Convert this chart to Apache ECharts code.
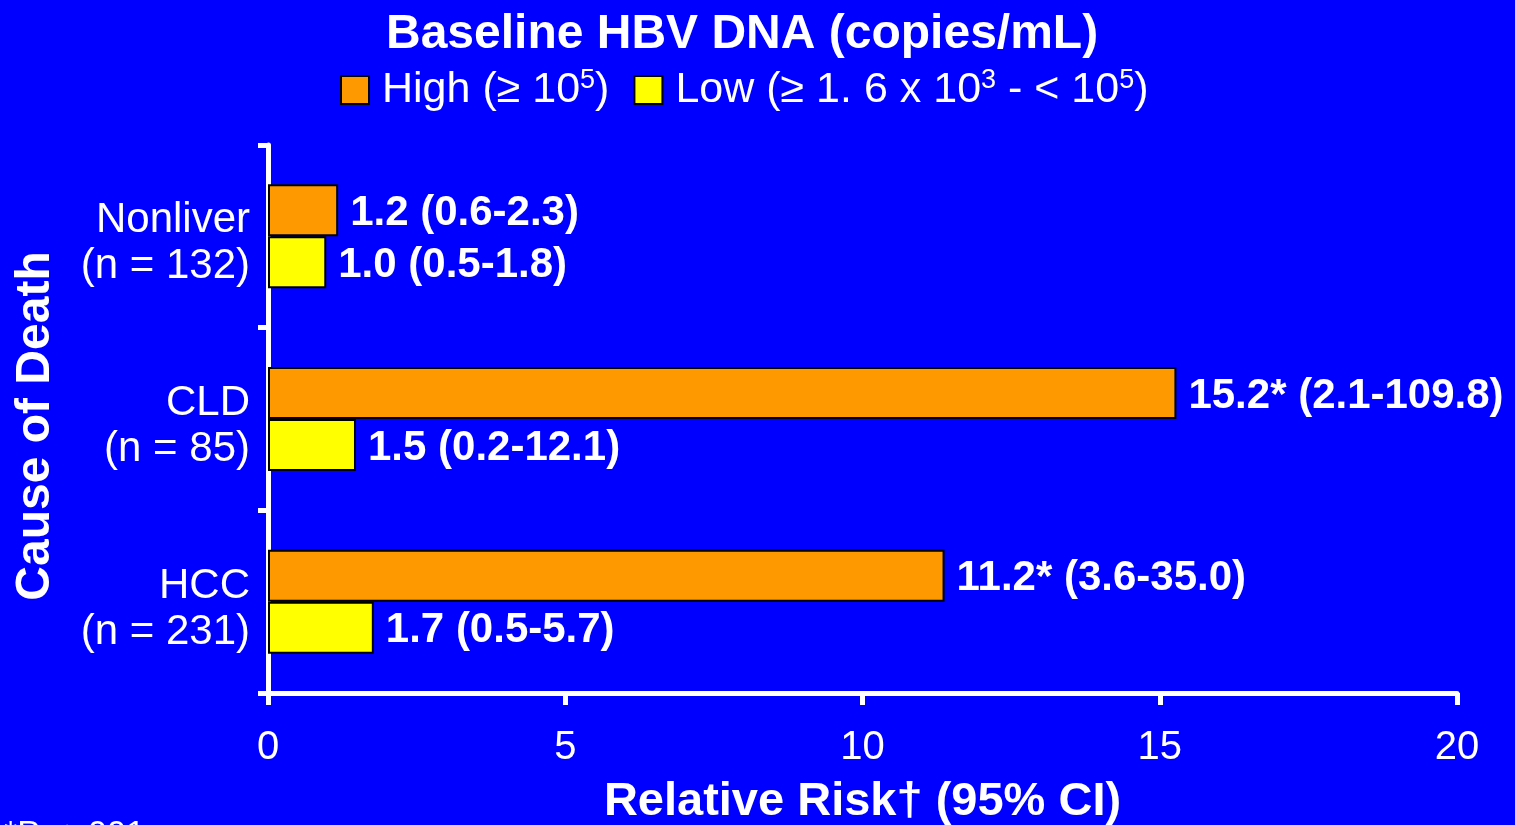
<!DOCTYPE html>
<html><head><meta charset="utf-8">
<script src="https://cdn.jsdelivr.net/npm/echarts@6/dist/echarts.min.js"></script>
<style>html,body{margin:0;padding:0;background:#0000FF;}#c{width:1515px;height:825px;}</style>
</head><body><div id="c"></div>
<script>
const categories = ['Nonliver\n(n = 132)', 'CLD\n(n = 85)', 'HCC\n(n = 231)'];
const highSeries = [1.18, 15.28, 11.38];
const lowSeries = [0.98, 1.48, 1.78];
const highLabels = ['1.2 (0.6-2.3)', '15.2* (2.1-109.8)', '11.2* (3.6-35.0)'];
const lowLabels = ['1.0 (0.5-1.8)', '1.5 (0.2-12.1)', '1.7 (0.5-5.7)'];
const xTicks = [0, 5, 10, 15, 20];

const FONT = '"Liberation Sans", Arial, sans-serif';
const chart = echarts.init(document.getElementById('c'));
const barLabel = (arr) => ({
  show: true, position: 'right', distance: 12, offset: [0, 3],
  formatter: p => arr[p.dataIndex],
  color: '#fff', fontWeight: 'bold', fontSize: 42, fontFamily: FONT
});
chart.setOption({
  backgroundColor: '#0000FF',
  animation: false,
  title: {
    text: 'Baseline HBV DNA (copies/mL)', left: 381, top: 6,
    textStyle: { color: '#fff', fontWeight: 'bold', fontSize: 48, fontFamily: FONT }
  },
  legend: {
    top: 62, left: 335, itemWidth: 28, itemHeight: 28, itemGap: 24,
    icon: 'rect',
    data: ['High', 'Low'],
    formatter: name => name === 'High'
      ? '{t|High (≥ 10}{s|5}{t|)}'
      : '{t|Low (≥ 1. 6 x 10}{s|3}{t| - < 10}{s|5}{t|)}',
    textStyle: {
      color: '#fff', fontFamily: FONT, padding: [0, 0, 0, 8],
      rich: {
        t: { color: '#fff', fontSize: 43, lineHeight: 46, fontFamily: FONT },
        s: { color: '#fff', fontSize: 27, lineHeight: 30, verticalAlign: 'top', fontFamily: FONT }
      }
    }
  },
  grid: { left: 268, right: 58, top: 145, bottom: 132, containLabel: false, outerBoundsMode: 'none' },
  xAxis: {
    type: 'value', min: 0, max: 20, interval: 5,
    name: 'Relative Risk† (95% CI)', nameLocation: 'middle', nameGap: 86,
    nameTextStyle: { color: '#fff', fontWeight: 'bold', fontSize: 47, fontFamily: FONT },
    axisLine: { show: true, lineStyle: { color: '#fff', width: 5 } },
    axisTick: { show: true, length: 12, lineStyle: { color: '#fff', width: 5 } },
    axisLabel: { color: '#fff', fontSize: 40, fontFamily: FONT, margin: 35,
      formatter: v => xTicks.includes(v) ? String(v) : '' },
    splitLine: { show: false }
  },
  yAxis: {
    type: 'category', inverse: true, data: categories,
    name: 'Cause of Death', nameLocation: 'middle', nameGap: 208, nameRotate: 90,
    nameTextStyle: { color: '#fff', fontWeight: 'bold', fontSize: 48, fontFamily: FONT, padding: [0, 14, 0, 0] },
    axisLine: { show: true, lineStyle: { color: '#fff', width: 5 } },
    axisTick: { show: true, length: 10, lineStyle: { color: '#fff', width: 5 } },
    axisLabel: {
      color: '#fff', fontSize: 42, lineHeight: 47, fontFamily: FONT, margin: 18, align: 'right',
      formatter: v => { const p = v.split('\n'); return '{b|' + p[0] + '}\n{a|' + p[1] + '}'; },
      rich: {
        a: { color: '#fff', fontSize: 42, lineHeight: 47, fontFamily: FONT, align: 'right', padding: [14, 0, 0, 0] },
        b: { color: '#fff', fontSize: 42, lineHeight: 47, fontFamily: FONT, align: 'right', padding: [16, 0, 0, 0] }
      }
    }
  },
  series: [
    { name: 'High', type: 'bar', data: highSeries, barWidth: 52, barGap: '0%',
      itemStyle: { color: '#FF9900', borderColor: '#000', borderWidth: 2 },
      label: barLabel(highLabels) },
    { name: 'Low', type: 'bar', data: lowSeries, barWidth: 52, barGap: '0%',
      itemStyle: { color: '#FFFF00', borderColor: '#000', borderWidth: 2 },
      label: barLabel(lowLabels) }
  ],
  graphic: [{
    type: 'text', left: 4, top: 818,
    style: { text: '*P < .001', fill: '#fff', font: '34px ' + FONT }
  }]
});
</script></body></html>
